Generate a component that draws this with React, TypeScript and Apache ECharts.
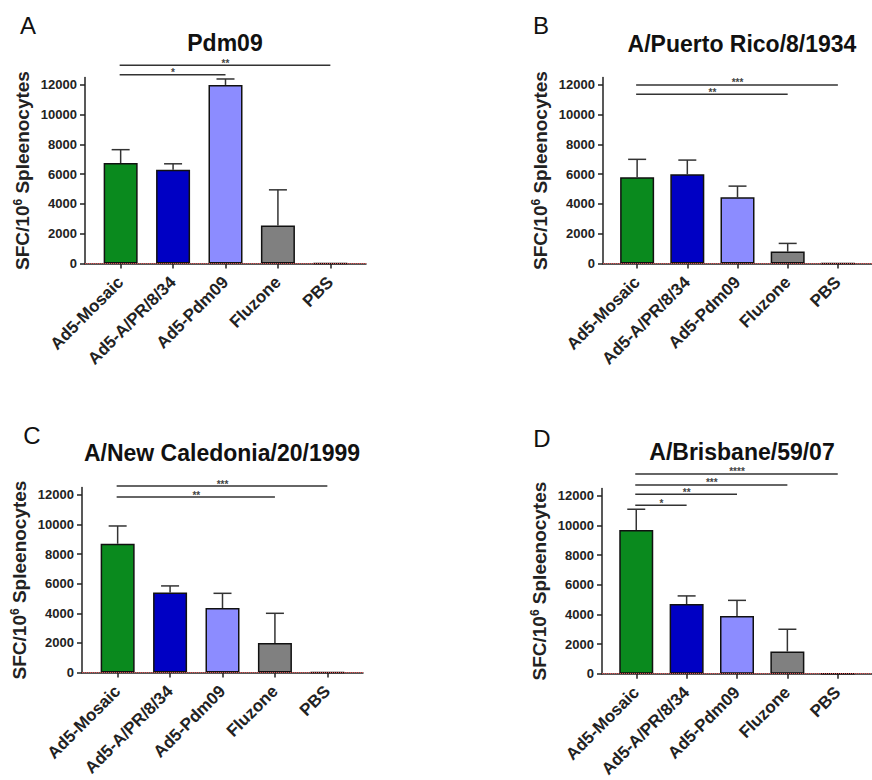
import React, { useEffect, useRef } from 'react';
import * as echarts from 'echarts';

const categories = ['Ad5-Mosaic', 'Ad5-A/PR/8/34', 'Ad5-Pdm09', 'Fluzone', 'PBS'];
const barColors = ['#0a8a1e', '#0000c4', '#8c8cff', '#808080', '#808080'];
const yTicks = [0, 2000, 4000, 6000, 8000, 10000, 12000];

const titles = ['Pdm09', 'A/Puerto Rico/8/1934', 'A/New Caledonia/20/1999', 'A/Brisbane/59/07'];
const letters = ['A', 'B', 'C', 'D'];

// mean SFC per 10^6 splenocytes
const meansA = [6750, 6300, 12000, 2550, 0];
const meansB = [5800, 6000, 4450, 800, 0];
const meansC = [8700, 5400, 4350, 2000, 0];
const meansD = [9700, 4700, 3900, 1500, 0];

// upper error (SD)
const errA = [900, 400, 400, 2400, 0];
const errB = [1200, 950, 750, 550, 0];
const errC = [1200, 450, 1000, 2000, 0];
const errD = [1400, 550, 1050, 1500, 0];

// significance brackets: [fromIndex, toIndex, yValue, stars]
const sigA = [[0, 2, 12680, 1], [0, 4, 13330, 2]];
const sigB = [[0, 4, 12000, 3], [0, 3, 11370, 2]];
const sigC = [[0, 4, 12600, 3], [0, 3, 11850, 2]];
const sigD = [[0, 1, 11370, 1], [0, 2, 12110, 2], [0, 3, 12740, 3], [0, 4, 13480, 4]];

const allMeans = [meansA, meansB, meansC, meansD];
const allErr = [errA, errB, errC, errD];
const allSig = [sigA, sigB, sigC, sigD];

// layout (pixels)
const grids = [
  { left: 85, top: 77.5, width: 281, height: 186 },
  { left: 603, top: 77.5, width: 281, height: 186 },
  { left: 82, top: 487.5, width: 281, height: 185 },
  { left: 602, top: 488.5, width: 281, height: 186 },
];
const titlePos = [
  [225, 43],
  [742, 44],
  [222, 453],
  [742, 452],
];
const letterPos = [
  [28, 25],
  [541, 25],
  [32, 435],
  [542, 438],
];

const FONT = '"Liberation Sans", Arial, sans-serif';
const INK = '#222';

export default function App() {
  const ref = useRef<HTMLDivElement>(null);

  useEffect(() => {
    if (!ref.current) return;
    const chart = echarts.init(ref.current, undefined, { renderer: 'svg' });

    const xAxes: any[] = [];
    const yAxes: any[] = [];
    const series: any[] = [];
    const graphics: any[] = [];

    grids.forEach((g, i) => {
      xAxes.push({
        type: 'value',
        gridIndex: i,
        min: -0.68,
        max: 4.68,
        splitLine: { show: false },
        axisLine: { show: true, onZero: false, lineStyle: { color: INK, width: 1.5 } },
        axisTick: {
          show: true,
          customValues: [0, 1, 2, 3, 4],
          length: 5,
          lineStyle: { color: INK, width: 1.5 },
        },
        axisLabel: {
          customValues: [0, 1, 2, 3, 4],
          rotate: 45,
          margin: 16,
          fontFamily: FONT,
          fontWeight: 'bold',
          fontSize: 17,
          color: INK,
          formatter: (v: number) => categories[Math.round(v)] ?? '',
        },
      });
      yAxes.push({
        type: 'value',
        gridIndex: i,
        min: 0,
        max: 12500,
        interval: 2000,
        splitLine: { show: false },
        axisLine: { show: true, onZero: false, lineStyle: { color: INK, width: 1.5 } },
        axisTick: { show: true, customValues: yTicks, length: 5, lineStyle: { color: INK, width: 1.5 } },
        axisLabel: {
          customValues: yTicks,
          margin: 8,
          fontFamily: FONT,
          fontWeight: 'bold',
          fontSize: 13,
          color: INK,
          formatter: (v: number) => String(v),
        },
        name: 'SFC/10{sup|6} Spleenocytes',
        nameLocation: 'middle',
        nameGap: 53,
        nameTextStyle: {
          fontFamily: FONT,
          fontWeight: 'bold',
          fontSize: 19,
          color: INK,
          rich: {
            sup: { fontFamily: FONT, fontWeight: 'bold', fontSize: 12, color: INK, verticalAlign: 'top', lineHeight: 20 },
          },
        },
      });

      const means = allMeans[i];
      const errs = allErr[i];

      series.push({
        type: 'bar',
        xAxisIndex: i,
        yAxisIndex: i,
        barWidth: 34,
        data: means.map((m, k) => ({
          value: [k, m],
          itemStyle: { color: barColors[k], borderColor: '#111', borderWidth: 1.5 },
        })),
        markLine: {
          silent: true,
          symbol: 'none',
          label: { show: false },
          lineStyle: { color: '#e05050', type: 'dotted', width: 1 },
          data: [{ yAxis: 0 }],
        },
        z: 2,
      });

      series.push({
        type: 'custom',
        xAxisIndex: i,
        yAxisIndex: i,
        clip: false,
        z: 1,
        data: means.map((m, k) => [k, m, errs[k]]),
        encode: { x: 0, y: 1 },
        renderItem: (params: any, api: any) => {
          const x = api.value(0);
          const m = api.value(1);
          const e = api.value(2);
          if (!e) return { type: 'group', children: [] };
          const p0 = api.coord([x, m]);
          const p1 = api.coord([x, m + e]);
          const st = { stroke: '#333', lineWidth: 1.5 };
          return {
            type: 'group',
            children: [
              { type: 'line', shape: { x1: p0[0], y1: p0[1], x2: p1[0], y2: p1[1] }, style: st },
              { type: 'line', shape: { x1: p1[0] - 9, y1: p1[1], x2: p1[0] + 9, y2: p1[1] }, style: st },
            ],
          };
        },
      });

      series.push({
        type: 'custom',
        xAxisIndex: i,
        yAxisIndex: i,
        clip: false,
        z: 3,
        data: allSig[i],
        encode: { x: [0, 1], y: 2 },
        renderItem: (params: any, api: any) => {
          const a = api.coord([api.value(0), api.value(2)]);
          const b = api.coord([api.value(1), api.value(2)]);
          const n = api.value(3);
          return {
            type: 'group',
            children: [
              {
                type: 'line',
                shape: { x1: a[0] - 1, y1: a[1], x2: b[0], y2: b[1] },
                style: { stroke: '#333', lineWidth: 1.5 },
              },
              {
                type: 'text',
                x: (a[0] + b[0]) / 2,
                y: a[1] - 2,
                style: {
                  text: '*'.repeat(n),
                  fill: '#444',
                  font: `bold 10px ${FONT}`,
                  align: 'center',
                  verticalAlign: 'middle',
                },
              },
            ],
          };
        },
      });

      graphics.push({
        type: 'text',
        x: titlePos[i][0],
        y: titlePos[i][1],
        style: {
          text: titles[i],
          fill: '#111',
          font: `bold 23px ${FONT}`,
          align: 'center',
          verticalAlign: 'middle',
        },
      });
      graphics.push({
        type: 'text',
        x: letterPos[i][0],
        y: letterPos[i][1],
        style: {
          text: letters[i],
          fill: '#111',
          font: `24px ${FONT}`,
          align: 'center',
          verticalAlign: 'middle',
        },
      });
    });

    chart.setOption({
      animation: false,
      backgroundColor: '#ffffff',
      grid: grids.map((g) => ({ ...g, containLabel: false })),
      xAxis: xAxes,
      yAxis: yAxes,
      series,
      graphic: graphics,
    });

    return () => chart.dispose();
  }, []);

  return (
    <div
      ref={ref}
      style={{ position: 'absolute', left: 0, top: 0, width: 872, height: 780, background: '#fff' }}
    />
  );
}
